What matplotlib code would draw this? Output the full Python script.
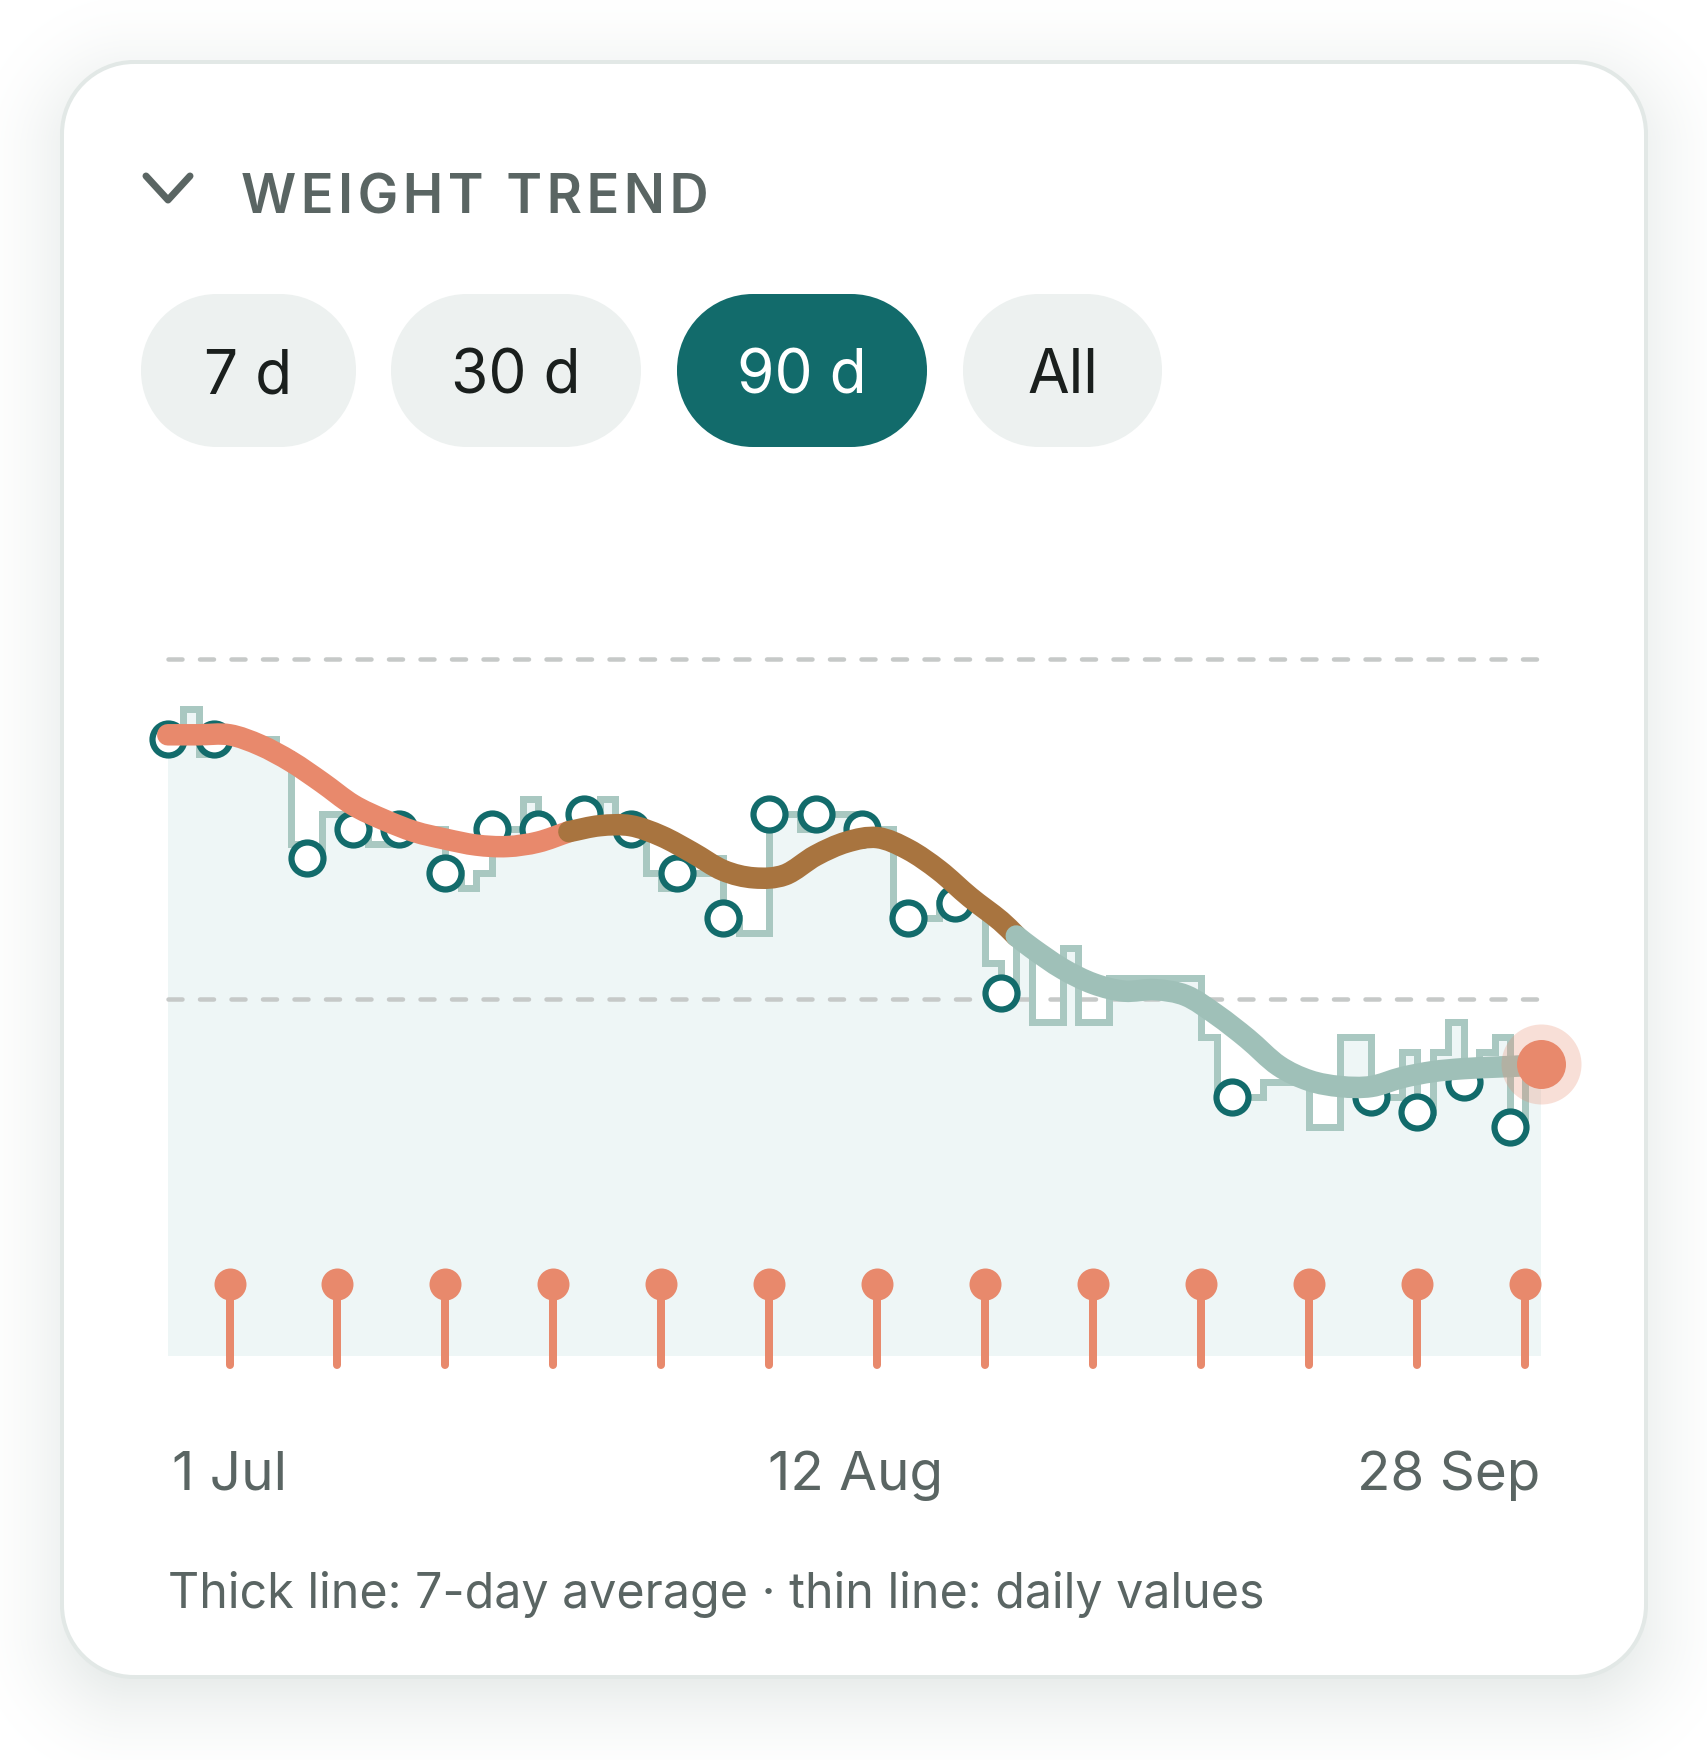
import matplotlib
matplotlib.use('Agg')
import matplotlib.pyplot as plt
from matplotlib.patches import PathPatch
from matplotlib.path import Path

plt.rcParams['font.family'] = ['Inter', 'DejaVu Sans']
plt.rcParams['lines.scale_dashes'] = False

# daily weight (one value per day from 1 Jul)
daily = [78.5, 78.7, 78.4, 78.5, 78.5, 78.5, 78.5, 78.4, 77.8, 77.7,
         78.0, 78.0, 77.9, 77.8, 77.8, 77.9, 77.9, 77.9, 77.6, 77.5,
         77.6, 77.9, 77.9, 78.1, 77.9, 77.9, 77.9, 78.0, 78.1, 77.9,
         77.9, 77.6, 77.5, 77.6, 77.6, 77.7, 77.3, 77.2, 77.2, 78.0,
         78.0, 77.9, 78.0, 78.0, 78.0, 77.9, 77.9, 77.3, 77.3, 77.3,
         77.4, 77.4, 77.4, 77.0, 76.8, 77.1, 76.6, 76.6, 77.1, 76.6,
         76.6, 76.9, 76.9, 76.9, 76.9, 76.9, 76.9, 76.5, 76.1, 76.1,
         76.1, 76.2, 76.2, 76.2, 75.9, 75.9, 76.5, 76.5, 76.1, 76.1,
         76.4, 76.0, 76.4, 76.6, 76.2, 76.4, 76.5, 75.9, 76.3, 76.3]

# days that carry a measured point
circle_days = [0, 3, 9, 12, 15, 18, 21, 24, 27, 30, 33, 36, 39, 42, 45, 48, 51, 54,
               69, 78, 81, 84, 87]

# 7-day average
trend_days = [0, 2, 4, 6, 8, 10, 12, 14, 16, 18, 20, 22, 24, 26, 28, 30, 32, 34, 36,
              38, 40, 42, 44, 46, 48, 50, 52, 54, 55, 56, 58, 60, 62, 64, 66, 68, 70,
              72, 74, 76, 78, 80, 82, 84, 86, 88, 89]
trend = [78.53, 78.53, 78.53, 78.46, 78.35, 78.21, 78.06, 77.96, 77.88, 77.83,
         77.79, 77.78, 77.81, 77.88, 77.92, 77.92, 77.85, 77.74, 77.62, 77.57,
         77.59, 77.72, 77.81, 77.84, 77.76, 77.62, 77.44, 77.28, 77.18, 77.10,
         76.96, 76.86, 76.81, 76.82, 76.78, 76.65, 76.49, 76.31, 76.21, 76.17,
         76.17, 76.23, 76.27, 76.29, 76.30, 76.31, 76.32]

goal_lines = [79.04, 76.76]
pin_days = [4, 11, 18, 25, 32, 39, 46, 53, 60, 67, 74, 81, 88]
range_labels = ['7 d', '30 d', '90 d', 'All']
date_labels = ['1 Jul', '12 Aug', '28 Sep']
title = 'WEIGHT TREND'
note = 'Thick line: 7-day average \u00b7 thin line: daily values'

TEAL = '#126b6b'
CORAL = '#e8896c'
BROWN = '#a8743f'
SAGE = '#9fc0b8'
STEP = '#a9c8c1'
FILL = '#eef6f6'
GREY = '#5a6563'


def px(n):
    return n * 0.72


W, H = 1708, 1760
fig = plt.figure(figsize=(W / 100, H / 100), dpi=100, facecolor='white')

# page layer, in pixels
bg = fig.add_axes([0, 0, 1, 1])
bg.set_xlim(0, W)
bg.set_ylim(H, 0)
bg.axis('off')


def rounded(x0, y0, x1, y1, r, **kw):
    # true circular corners, FancyBboxPatch's are too square
    k = r * 0.4477
    verts = [(x0 + r, y0), (x1 - r, y0),
             (x1 - k, y0), (x1, y0 + k), (x1, y0 + r), (x1, y1 - r),
             (x1, y1 - k), (x1 - k, y1), (x1 - r, y1), (x0 + r, y1),
             (x0 + k, y1), (x0, y1 - k), (x0, y1 - r), (x0, y0 + r),
             (x0, y0 + k), (x0 + k, y0), (x0 + r, y0), (x0 + r, y0)]
    codes = [Path.MOVETO, Path.LINETO,
             Path.CURVE4, Path.CURVE4, Path.CURVE4, Path.LINETO,
             Path.CURVE4, Path.CURVE4, Path.CURVE4, Path.LINETO,
             Path.CURVE4, Path.CURVE4, Path.CURVE4, Path.LINETO,
             Path.CURVE4, Path.CURVE4, Path.CURVE4, Path.CLOSEPOLY]
    p = PathPatch(Path(verts, codes), **kw)
    bg.add_patch(p)
    return p


def smooth_path(xs, ys):
    # cubic segments through the read points, so the line has no corners
    verts = [(xs[0], ys[0])]
    codes = [Path.MOVETO]
    n = len(xs)
    for i in range(n - 1):
        x0, y0 = xs[max(i - 1, 0)], ys[max(i - 1, 0)]
        x1, y1 = xs[i], ys[i]
        x2, y2 = xs[i + 1], ys[i + 1]
        x3, y3 = xs[min(i + 2, n - 1)], ys[min(i + 2, n - 1)]
        h = x2 - x1
        m1 = (y2 - y0) / (x2 - x0)
        m2 = (y3 - y1) / (x3 - x1)
        verts += [(x1 + h / 3, y1 + m1 * h / 3), (x2 - h / 3, y2 - m2 * h / 3), (x2, y2)]
        codes += [Path.CURVE4] * 3
    return Path(verts, codes)


# soft shadow, opaque rings so the low alpha does not round away
for i in range(110, -21, -1):
    t = ((110 - i) / 130) ** 2.2
    shade = (1 - t * 0.09, 1 - t * 0.075, 1 - t * 0.08)
    rounded(62 - i, 82 - i, 1646 + i, 1697 + i, max(72 + i, 40), fc=shade, ec='none')

rounded(62, 62, 1646, 1677, 72, fc='white', ec='#e2e8e6', lw=px(4))

bg.plot([146, 168, 190], [176, 200, 176], color=GREY, lw=px(7),
        solid_capstyle='round', solid_joinstyle='round')
bg.text(241, 213, '\u200a'.join(title), fontsize=39, color=GREY,
        ha='left', va='baseline', fontweight='semibold')

pills = [(141, 356), (391, 641), (677, 927), (963, 1162)]
for (x0, x1), lab in zip(pills, range_labels):
    active = lab == '90 d'
    rounded(x0, 294, x1, 447, 76, fc=TEAL if active else '#edf1f0', ec='none')
    bg.text((x0 + x1) / 2, 393, lab, fontsize=43.5, ha='center', va='baseline',
            color='white' if active else '#1a1f1d')

for x, ha, lab in zip([172, 856, 1540], ['left', 'center', 'right'], date_labels):
    bg.text(x, 1490, lab, fontsize=39.5, color=GREY, ha=ha, va='baseline')
bg.text(168, 1608, note, fontsize=34.8, color=GREY, ha='left', va='baseline')

# chart layer, in days and kg
ax = fig.add_axes([167.8 / W, 1 - 1356 / H, 1373 / W, 716 / H])
ax.set_xlim(0, 89)
ax.set_ylim(74.362, 79.166)
ax.axis('off')

days = list(range(len(daily)))
ax.fill_between(days, daily, 74.362, step='post', color=FILL, lw=0, zorder=1)

for g in goal_lines:
    ax.plot([0, 88.9], [g, g], color='#c6c9c8', lw=px(4.5), dashes=(px(14), px(17.5)),
            dash_capstyle='round', zorder=2, clip_on=False)

ax.step(days, daily, where='post', color=STEP, lw=px(7), zorder=3, clip_on=False,
        solid_joinstyle='miter', solid_capstyle='butt')

ax.plot(circle_days, [daily[d] for d in circle_days], 'o', ms=px(32), mfc='white', mec=TEAL,
        mew=px(6.2), zorder=4, clip_on=False)

# thick line in three colour runs
runs = [(0, 26, CORAL), (26, 55, BROWN), (55, 89, SAGE)]
for n, (a, b, col) in enumerate(runs):
    xs = [d for d in trend_days if a <= d <= b]
    ys = [v for d, v in zip(trend_days, trend) if a <= d <= b]
    ax.add_patch(PathPatch(smooth_path(xs, ys), fc='none', ec=col, lw=px(21.5), capstyle='round',
                           joinstyle='round', zorder=5 + n, clip_on=False))

# pins along the bottom
tr = ax.get_xaxis_transform()
ax.vlines(pin_days, -0.012, 0.1006, transform=tr, color=CORAL, lw=px(8), capstyle='round',
          zorder=8, clip_on=False)
ax.plot(pin_days, [0.1006] * len(pin_days), 'o', transform=tr, color=CORAL, ms=px(32), mew=0,
        zorder=9, clip_on=False)

ax.plot(days[-1], trend[-1], 'o', color=CORAL, ms=px(80), mew=0, alpha=0.27, zorder=10, clip_on=False)
ax.plot(days[-1], trend[-1], 'o', color=CORAL, ms=px(49), mew=0, zorder=11, clip_on=False)

fig.savefig('out.png', dpi=100, facecolor='white')
